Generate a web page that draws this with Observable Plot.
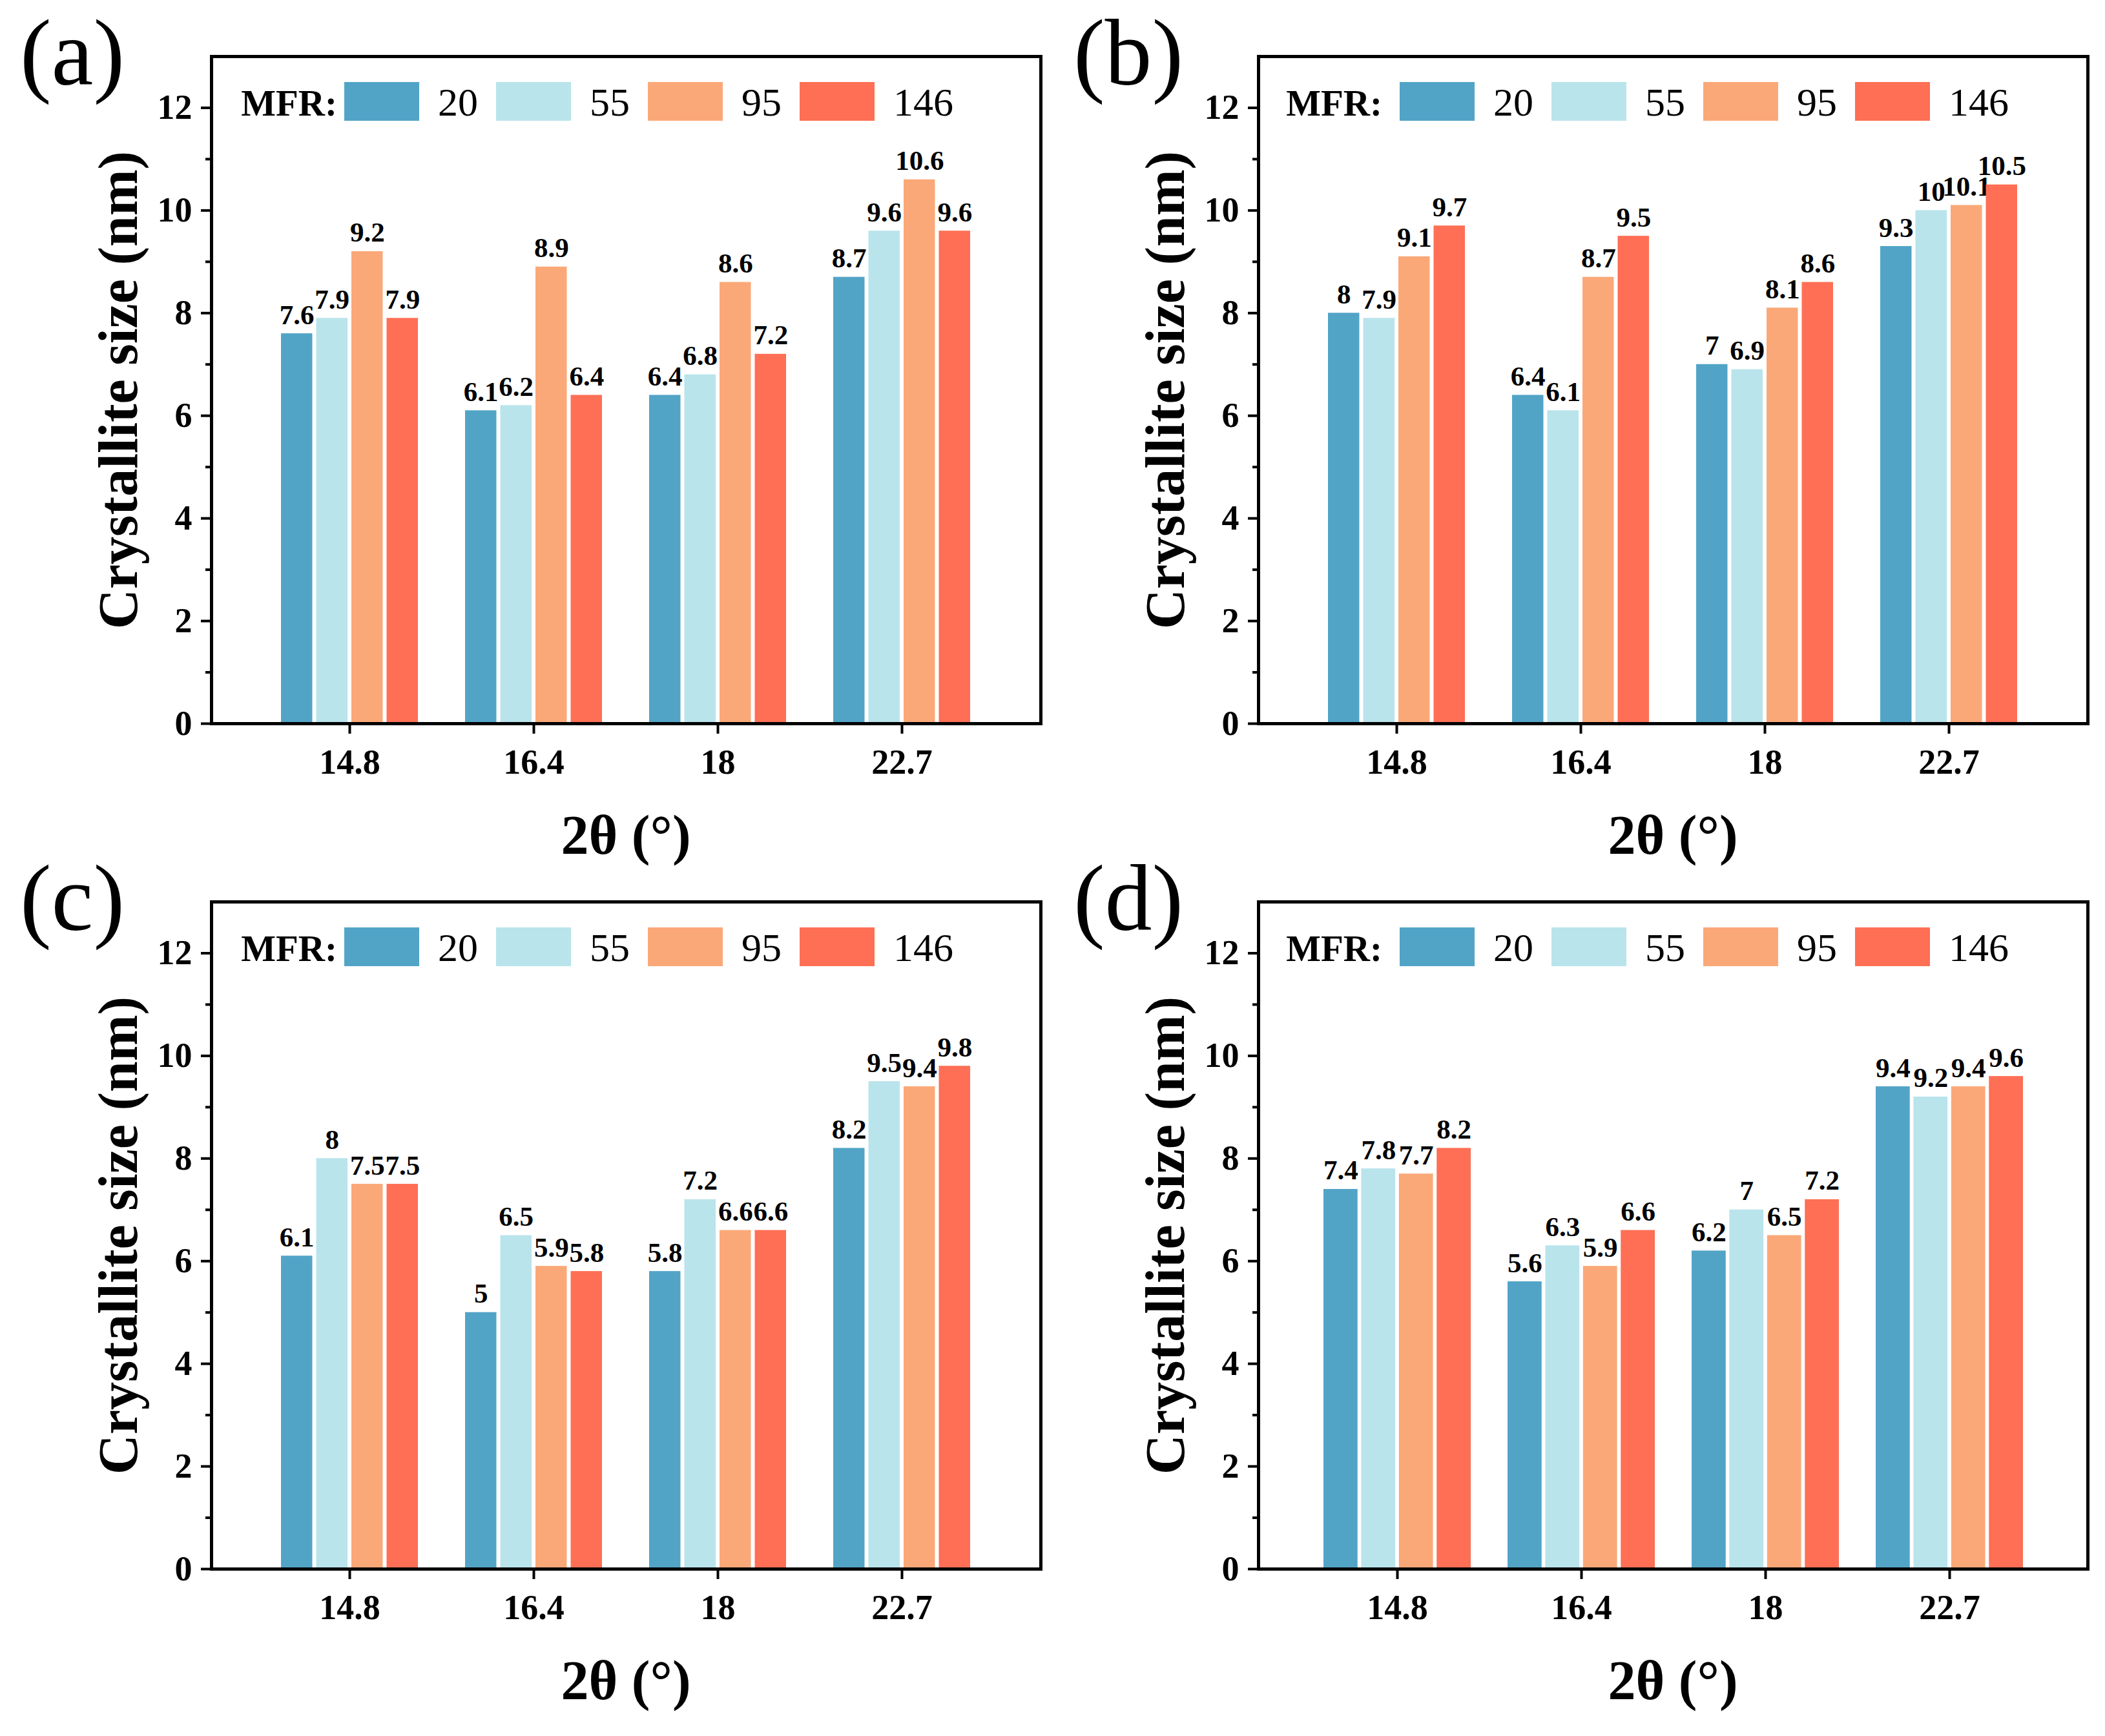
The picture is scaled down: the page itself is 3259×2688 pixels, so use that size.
<!DOCTYPE html>
<html><head><meta charset="utf-8">
<script src="https://cdn.jsdelivr.net/npm/d3@7"></script>
<script src="https://cdn.jsdelivr.net/npm/@observablehq/plot@0.6"></script>
<style>
html,body{margin:0;padding:0;background:#fff;}
#page{position:relative;width:3259px;height:2688px;overflow:hidden;background:#fff;font-family:"Liberation Serif","Times New Roman",serif;color:#000;}
#page svg text, #page svg g{font-weight:700 !important;}
.abs{position:absolute;white-space:nowrap;}
.plabel{font-size:146px;line-height:1;font-weight:normal;}
.ytitle{font-size:86px;font-weight:bold;line-height:1;transform:translate(-50%,-50%) rotate(-90deg);}
.xtitle{font-size:86px;font-weight:bold;line-height:1;transform:translate(-50%,-50%);}
.mfr{font-size:57px;font-weight:bold;line-height:1;transform:translate(-100%,-50%);}
.swatch{width:116px;height:60px;}
.leglab{font-size:62px;font-weight:normal;line-height:1;transform:translateY(-50%);}
</style></head>
<body><div id="page"></div>
<script>
// ---- data ----
const categories = ["14.8", "16.4", "18", "22.7"];
const series = ["20", "55", "95", "146"];
const seriesColors = ["#52A4C7", "#B9E4EB", "#FBA878", "#FE6F55"];
// rows: categories (2θ), columns: MFR series
const valuesA = [[7.6, 7.9, 9.2, 7.9], [6.1, 6.2, 8.9, 6.4], [6.4, 6.8, 8.6, 7.2], [8.7, 9.6, 10.6, 9.6]];
const valuesB = [[8, 7.9, 9.1, 9.7], [6.4, 6.1, 8.7, 9.5], [7, 6.9, 8.1, 8.6], [9.3, 10, 10.1, 10.5]];
const valuesC = [[6.1, 8, 7.5, 7.5], [5, 6.5, 5.9, 5.8], [5.8, 7.2, 6.6, 6.6], [8.2, 9.5, 9.4, 9.8]];
const valuesD = [[7.4, 7.8, 7.7, 8.2], [5.6, 6.3, 5.9, 6.6], [6.2, 7, 6.5, 7.2], [9.4, 9.2, 9.4, 9.6]];
const yTicks = [0, 2, 4, 6, 8, 10, 12];
const yMinorTicks = [1, 3, 5, 7, 9, 11];
const yTitle = "Crystallite size (nm)";
const xTitle = "2θ (°)";
const legendTitle = "MFR:";

// ---- layout ----
const W = 1284, H = 1033;
const mL = 300, mT = 20, mR = 20, mB = 250;
const step = 285;
const panels = [
  {label: "(a)", values: valuesA, fl: 327, ft: 87, pi: 0.235, lx: 31, ly: 9, legDx: 206, mfrDx: 195},
  {label: "(b)", values: valuesB, fl: 1948, ft: 87, pi: 0.235, lx: 1662, ly: 9, legDx: 219, mfrDx: 192},
  {label: "(c)", values: valuesC, fl: 327, ft: 1396, pi: 0.235, lx: 31, ly: 1318, legDx: 206, mfrDx: 195},
  {label: "(d)", values: valuesD, fl: 1948, ft: 1396, pi: 0.18, lx: 1662, ly: 1318, legDx: 219, mfrDx: 192}
];

const page = document.getElementById("page");
function addDiv(cls, x, y, text, extra) {
  const d = document.createElement("div");
  d.className = "abs " + cls;
  d.style.left = x + "px";
  d.style.top = y + "px";
  if (text != null) d.textContent = text;
  if (extra) Object.assign(d.style, extra);
  page.appendChild(d);
  return d;
}

for (const p of panels) {
  const rows = [];
  p.values.forEach((vals, ci) => vals.forEach((v, si) => rows.push({cat: categories[ci], series: series[si], value: v})));
  const po = (W / step - categories.length + p.pi) / 2;
  const bw = step * (1 - p.pi);
  const pitch = bw / series.length;
  const gap = 6;
  const marks = [];
  series.forEach((s, i) => {
    const sub = rows.filter(r => r.series === s);
    marks.push(Plot.barY(sub, {
      x: "cat", y: "value", fill: "series",
      insetLeft: i * pitch + gap / 2,
      insetRight: (series.length - 1 - i) * pitch + gap / 2
    }));
    marks.push(Plot.text(sub, {
      x: "cat", y: "value", text: d => String(d.value),
      dx: (i - (series.length - 1) / 2) * pitch, dy: -15,
      lineAnchor: "bottom", fontSize: 43, fontWeight: "bold", fill: "black"
    }));
  });
  marks.push(Plot.axisX({tickSize: 16, tickPadding: 23, strokeWidth: 4, fontSize: 54, fontWeight: "bold", label: null}));
  marks.push(Plot.axisY(yTicks, {tickSize: 16, tickPadding: 14, strokeWidth: 4, fontSize: 54, fontWeight: "bold", tickFormat: d => String(d), label: null}));
  marks.push(Plot.axisY(yMinorTicks, {tickSize: 9, strokeWidth: 4, tickFormat: () => "", label: null}));
  marks.push(Plot.frame({strokeWidth: 5, stroke: "black"}));

  const svg = Plot.plot({
    width: mL + W + mR, height: mT + H + mB,
    marginLeft: mL, marginTop: mT, marginRight: mR, marginBottom: mB,
    style: {fontFamily: '"Liberation Serif","Times New Roman",serif', fontSize: "54px", fontWeight: "bold", background: "transparent", maxWidth: "none", overflow: "visible", color: "black"},
    x: {type: "band", domain: categories, paddingInner: p.pi, paddingOuter: po},
    y: {domain: [0, 13]},
    color: {domain: series, range: seriesColors},
    marks
  });
  const holder = addDiv("", p.fl - mL, p.ft - mT, null, {width: (mL + W + mR) + "px", height: (mT + H + mB) + "px"});
  holder.appendChild(svg);

  // panel label
  addDiv("plabel", p.lx, p.ly, p.label);
  // axis titles
  addDiv("ytitle", p.fl - 144, p.ft + H / 2, yTitle);
  addDiv("xtitle", p.fl + W / 2, p.ft + H + 173, xTitle);
  // legend
  const legY = p.ft + 40;
  addDiv("mfr", p.fl + p.mfrDx, legY + 32, legendTitle);
  series.forEach((s, i) => {
    const sx = p.fl + p.legDx + i * 235;
    addDiv("swatch", sx, legY, null, {background: seriesColors[i]});
    addDiv("leglab", sx + 145, legY + 31, s);
  });
}
</script>
</body></html>
